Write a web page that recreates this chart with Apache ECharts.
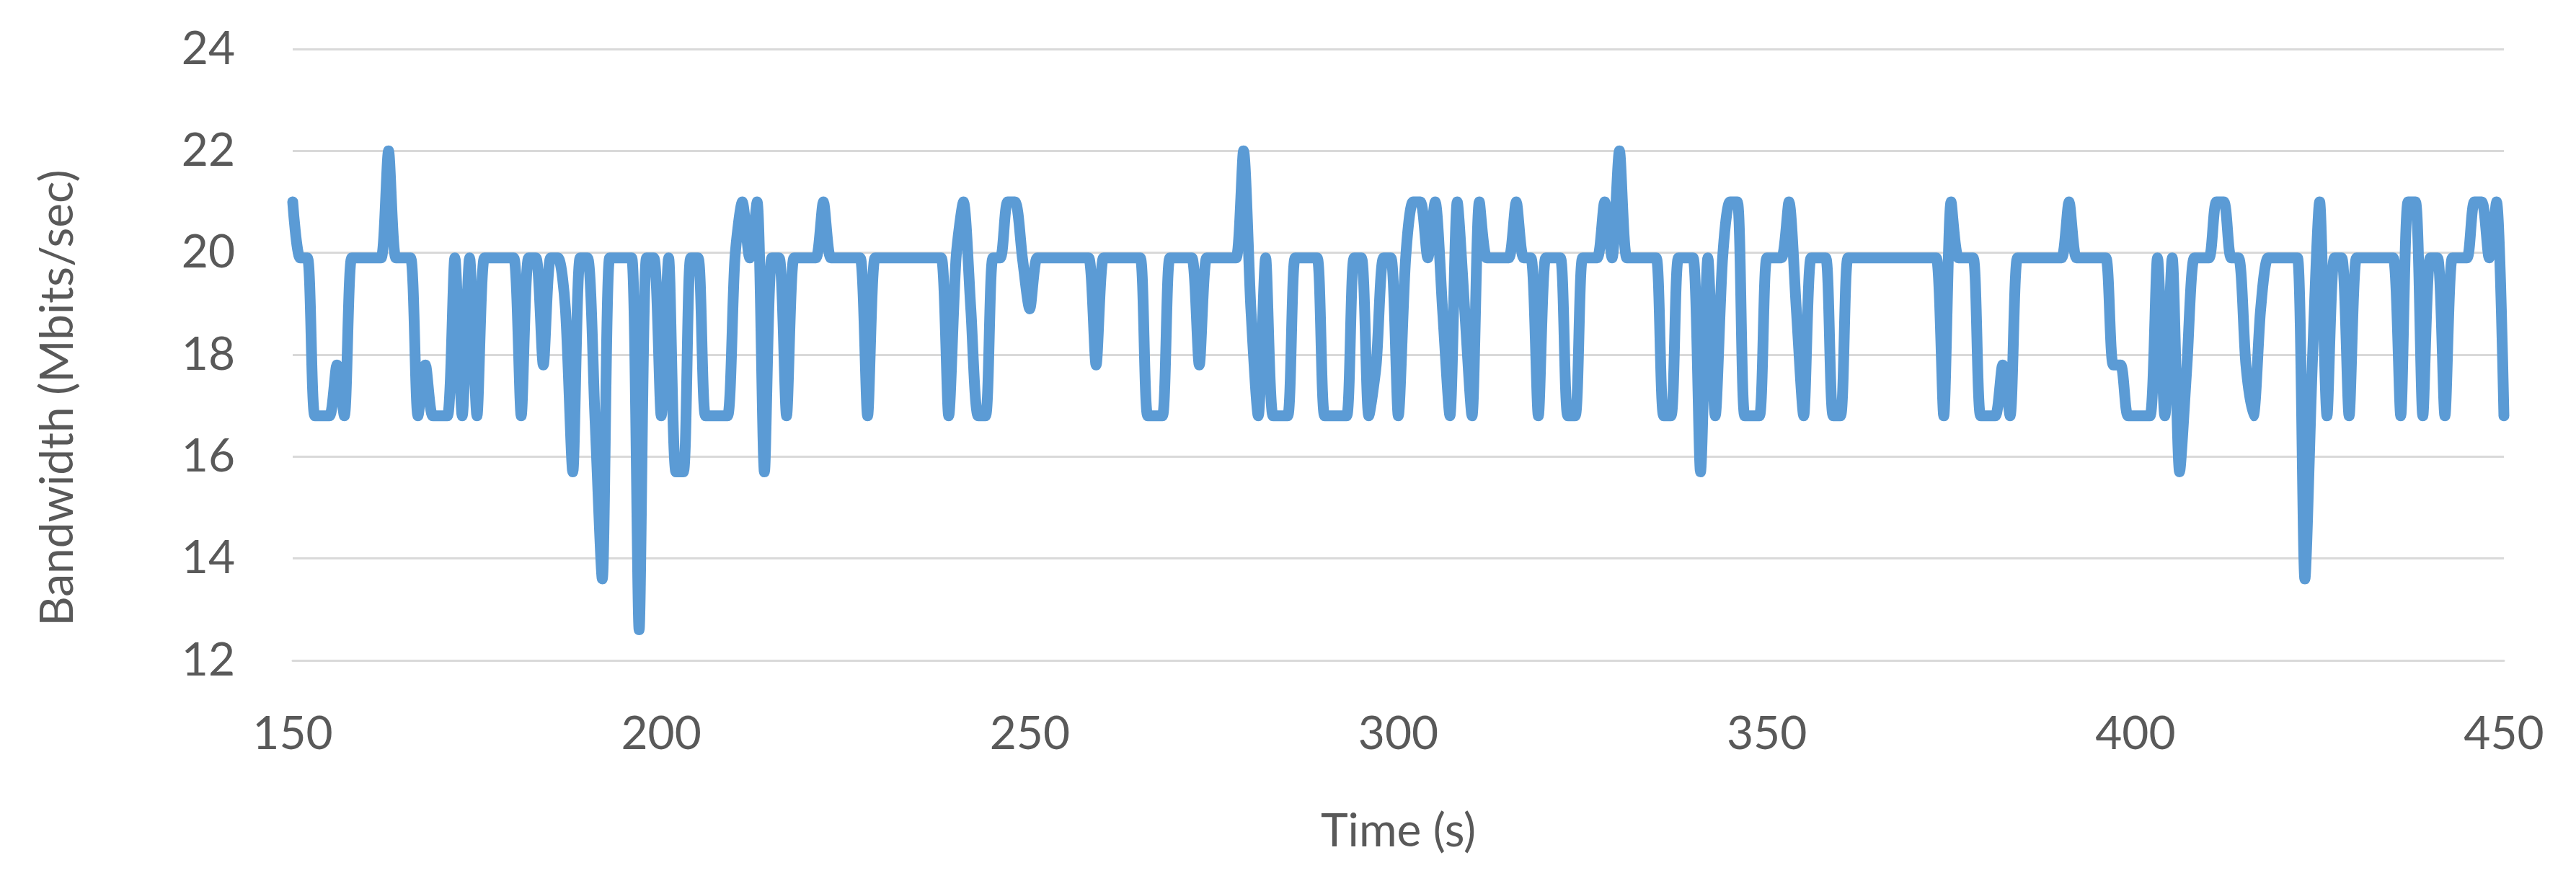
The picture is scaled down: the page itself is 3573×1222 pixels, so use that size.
<!DOCTYPE html>
<html>
<head>
<meta charset="utf-8">
<script src="https://cdn.jsdelivr.net/npm/echarts@6/dist/echarts.min.js"></script>
<style>
html,body{margin:0;padding:0;background:#fff;}
#chart{width:3573px;height:1222px;}
</style>
</head>
<body>
<div id="chart"></div>
<script>
// Time (s), one sample per second
const times = [
150,151,152,153,154,155,156,157,158,159,
160,161,162,163,164,165,166,167,168,169,
170,171,172,173,174,175,176,177,178,179,
180,181,182,183,184,185,186,187,188,189,
190,191,192,193,194,195,196,197,198,199,
200,201,202,203,204,205,206,207,208,209,
210,211,212,213,214,215,216,217,218,219,
220,221,222,223,224,225,226,227,228,229,
230,231,232,233,234,235,236,237,238,239,
240,241,242,243,244,245,246,247,248,249,
250,251,252,253,254,255,256,257,258,259,
260,261,262,263,264,265,266,267,268,269,
270,271,272,273,274,275,276,277,278,279,
280,281,282,283,284,285,286,287,288,289,
290,291,292,293,294,295,296,297,298,299,
300,301,302,303,304,305,306,307,308,309,
310,311,312,313,314,315,316,317,318,319,
320,321,322,323,324,325,326,327,328,329,
330,331,332,333,334,335,336,337,338,339,
340,341,342,343,344,345,346,347,348,349,
350,351,352,353,354,355,356,357,358,359,
360,361,362,363,364,365,366,367,368,369,
370,371,372,373,374,375,376,377,378,379,
380,381,382,383,384,385,386,387,388,389,
390,391,392,393,394,395,396,397,398,399,
400,401,402,403,404,405,406,407,408,409,
410,411,412,413,414,415,416,417,418,419,
420,421,422,423,424,425,426,427,428,429,
430,431,432,433,434,435,436,437,438,439,
440,441,442,443,444,445,446,447,448,449,
450
];
// Bandwidth (Mbits/sec)
const bandwidth = [
21.0,19.9,19.9,16.8,16.8,16.8,17.8,16.8,19.9,19.9,
19.9,19.9,19.9,22.0,19.9,19.9,19.9,16.8,17.8,16.8,
16.8,16.8,19.9,16.8,19.9,16.8,19.9,19.9,19.9,19.9,
19.9,16.8,19.9,19.9,17.8,19.9,19.9,18.9,15.7,19.9,
19.9,16.8,13.6,19.9,19.9,19.9,19.9,12.6,19.9,19.9,
16.8,19.9,15.7,15.7,19.9,19.9,16.8,16.8,16.8,16.8,
19.9,21.0,19.9,21.0,15.7,19.9,19.9,16.8,19.9,19.9,
19.9,19.9,21.0,19.9,19.9,19.9,19.9,19.9,16.8,19.9,
19.9,19.9,19.9,19.9,19.9,19.9,19.9,19.9,19.9,16.8,
19.9,21.0,18.9,16.8,16.8,19.9,19.9,21.0,21.0,19.9,
18.9,19.9,19.9,19.9,19.9,19.9,19.9,19.9,19.9,17.8,
19.9,19.9,19.9,19.9,19.9,19.9,16.8,16.8,16.8,19.9,
19.9,19.9,19.9,17.8,19.9,19.9,19.9,19.9,19.9,22.0,
18.9,16.8,19.9,16.8,16.8,16.8,19.9,19.9,19.9,19.9,
16.8,16.8,16.8,16.8,19.9,19.9,16.8,17.8,19.9,19.9,
16.8,19.9,21.0,21.0,19.9,21.0,18.9,16.8,21.0,18.9,
16.8,21.0,19.9,19.9,19.9,19.9,21.0,19.9,19.9,16.8,
19.9,19.9,19.9,16.8,16.8,19.9,19.9,19.9,21.0,19.9,
22.0,19.9,19.9,19.9,19.9,19.9,16.8,16.8,19.9,19.9,
19.9,15.7,19.9,16.8,19.9,21.0,21.0,16.8,16.8,16.8,
19.9,19.9,19.9,21.0,18.9,16.8,19.9,19.9,19.9,16.8,
16.8,19.9,19.9,19.9,19.9,19.9,19.9,19.9,19.9,19.9,
19.9,19.9,19.9,19.9,16.8,21.0,19.9,19.9,19.9,16.8,
16.8,16.8,17.8,16.8,19.9,19.9,19.9,19.9,19.9,19.9,
19.9,21.0,19.9,19.9,19.9,19.9,19.9,17.8,17.8,16.8,
16.8,16.8,16.8,19.9,16.8,19.9,15.7,17.8,19.9,19.9,
19.9,21.0,21.0,19.9,19.9,17.8,16.8,18.9,19.9,19.9,
19.9,19.9,19.9,13.6,17.8,21.0,16.8,19.9,19.9,16.8,
19.9,19.9,19.9,19.9,19.9,19.9,16.8,21.0,21.0,16.8,
19.9,19.9,16.8,19.9,19.9,19.9,21.0,21.0,19.9,21.0,
16.8
];
const xTicks = [150, 200, 250, 300, 350, 400, 450];
const yTicks = [12, 14, 16, 18, 20, 22, 24];

const points = times.map((t, i) => [t, bandwidth[i]]);
const FONT = 'Lato, "Open Sans", sans-serif';
const chart = echarts.init(document.getElementById('chart'), null, {renderer: 'canvas'});
chart.setOption({
  backgroundColor: '#ffffff',
  animation: false,
  grid: {left: 406, right: 100, top: 68, bottom: 306, containLabel: false},
  xAxis: {
    type: 'value',
    min: xTicks[0], max: xTicks[xTicks.length - 1], interval: 50,
    name: 'Time (s)', nameLocation: 'middle', nameGap: 205,
    nameTextStyle: {fontFamily: FONT, fontSize: 64, color: '#595959'},
    axisLine: {show: true, lineStyle: {color: '#d9d9d9', width: 3}},
    axisTick: {show: false},
    splitLine: {show: false},
    axisLabel: {fontFamily: FONT, fontSize: 64, color: '#595959', margin: 70}
  },
  yAxis: {
    type: 'value',
    min: yTicks[0], max: yTicks[yTicks.length - 1], interval: 2,
    axisLine: {show: false},
    axisTick: {show: false},
    splitLine: {show: true, lineStyle: {color: '#d9d9d9', width: 3}},
    axisLabel: {fontFamily: FONT, fontSize: 64, color: '#595959', margin: 80}
  },
  graphic: [{
    type: 'text',
    x: 80, y: 552,
    rotation: Math.PI / 2,
    style: {
      text: 'Bandwidth (Mbits/sec)',
      fontFamily: FONT, fontSize: 64, fill: '#595959',
      align: 'center', verticalAlign: 'middle'
    }
  }],
  series: [{
    type: 'line',
    data: points,
    showSymbol: false,
    smooth: 0.25,
    lineStyle: {color: '#5B9BD5', width: 15, join: 'round', cap: 'round'},
    itemStyle: {color: '#5B9BD5'}
  }]
});
</script>
</body>
</html>
